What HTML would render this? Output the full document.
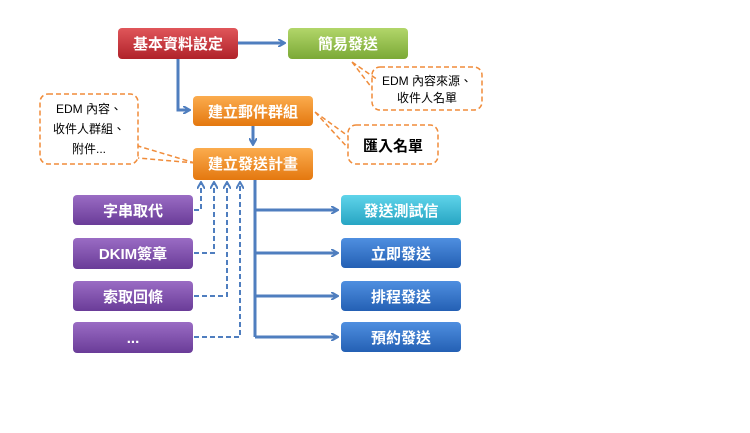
<!DOCTYPE html>
<html><head><meta charset="utf-8"><style>
body{margin:0;background:#fff;width:750px;height:428px;overflow:hidden}
</style></head><body>
<svg width="750" height="428" xmlns="http://www.w3.org/2000/svg" font-family="Liberation Sans, Noto Sans CJK TC, sans-serif">
<defs>
<linearGradient id="r" x1="0" y1="0" x2="0" y2="1"><stop offset="0" stop-color="#e0565a"/><stop offset="1" stop-color="#b0222a"/></linearGradient>
<linearGradient id="g" x1="0" y1="0" x2="0" y2="1"><stop offset="0" stop-color="#b2d66a"/><stop offset="1" stop-color="#7ba936"/></linearGradient>
<linearGradient id="o" x1="0" y1="0" x2="0" y2="1"><stop offset="0" stop-color="#fbac4e"/><stop offset="1" stop-color="#e4780f"/></linearGradient>
<linearGradient id="p" x1="0" y1="0" x2="0" y2="1"><stop offset="0" stop-color="#9a6cc4"/><stop offset="1" stop-color="#6a3c98"/></linearGradient>
<linearGradient id="c" x1="0" y1="0" x2="0" y2="1"><stop offset="0" stop-color="#5fd4ea"/><stop offset="1" stop-color="#27a5c3"/></linearGradient>
<linearGradient id="b" x1="0" y1="0" x2="0" y2="1"><stop offset="0" stop-color="#4f8fe0"/><stop offset="1" stop-color="#2460b4"/></linearGradient>
<marker id="a" markerWidth="8" markerHeight="8" refX="6" refY="4" orient="auto" markerUnits="userSpaceOnUse"><path d="M0,0 L7,4 L0,8" fill="none" stroke="#4f7ebf" stroke-width="2"/></marker>
</defs>
<g stroke="#4f7ebf" stroke-width="3" fill="none">
<path d="M238,43 H284" marker-end="url(#a)"/>
<path d="M178,59 V110 H189" marker-end="url(#a)"/>
<path d="M253,126 V144" marker-end="url(#a)"/>
<path d="M255,180 V337"/>
<path d="M255,210 H337" marker-end="url(#a)"/>
<path d="M255,253 H337" marker-end="url(#a)"/>
<path d="M255,296 H337" marker-end="url(#a)"/>
<path d="M255,337 H337" marker-end="url(#a)"/>
</g>
<g stroke="#4f7ebf" stroke-width="2" fill="none" stroke-dasharray="5,3">
<path d="M194,210 H201 V183" marker-end="url(#a)"/>
<path d="M194,253 H214 V183" marker-end="url(#a)"/>
<path d="M194,296 H227 V183" marker-end="url(#a)"/>
<path d="M194,337 H240 V183" marker-end="url(#a)"/>
</g>
<g stroke="#f08c3a" stroke-width="1.5" fill="#fff" stroke-dasharray="5,3">
<rect x="372" y="67" width="110" height="43" rx="8"/>
<path d="M352,62 L378,80 M352,62 L372,88" fill="none"/>
<rect x="40" y="94" width="98" height="70" rx="8"/>
<path d="M195,163 L138,146 M195,163 L138,158" fill="none"/>
<rect x="348" y="125" width="90" height="39" rx="8"/>
<path d="M315,112 L348,136 M315,112 L348,148" fill="none"/>
</g>
<g font-size="12" fill="#000" text-anchor="middle">
<text x="427" y="85">EDM 內容來源、</text><text x="427" y="102">收件人名單</text>
<text x="89" y="113">EDM 內容、</text><text x="89" y="133">收件人群組、</text><text x="89" y="153">附件...</text>
<text x="393" y="151" font-size="15" font-weight="bold">匯入名單</text>
</g>
<g font-size="15" font-weight="bold" fill="#fff" text-anchor="middle">
<rect x="118" y="28" width="120" height="31" rx="4" fill="url(#r)"/><text x="178" y="49">基本資料設定</text>
<rect x="288" y="28" width="120" height="31" rx="4" fill="url(#g)"/><text x="348" y="49">簡易發送</text>
<rect x="193" y="96" width="120" height="30" rx="4" fill="url(#o)"/><text x="253" y="117">建立郵件群組</text>
<rect x="193" y="148" width="120" height="32" rx="4" fill="url(#o)"/><text x="253" y="169">建立發送計畫</text>
<rect x="73" y="195" width="120" height="30" rx="4" fill="url(#p)"/><text x="133" y="216">字串取代</text>
<rect x="73" y="238" width="120" height="31" rx="4" fill="url(#p)"/><text x="133" y="259">DKIM簽章</text>
<rect x="73" y="281" width="120" height="30" rx="4" fill="url(#p)"/><text x="133" y="302">索取回條</text>
<rect x="73" y="322" width="120" height="31" rx="4" fill="url(#p)"/><text x="133" y="343">...</text>
<rect x="341" y="195" width="120" height="30" rx="4" fill="url(#c)"/><text x="401" y="216">發送測試信</text>
<rect x="341" y="238" width="120" height="30" rx="4" fill="url(#b)"/><text x="401" y="259">立即發送</text>
<rect x="341" y="281" width="120" height="30" rx="4" fill="url(#b)"/><text x="401" y="302">排程發送</text>
<rect x="341" y="322" width="120" height="30" rx="4" fill="url(#b)"/><text x="401" y="343">預約發送</text>
</g>
</svg>
</body></html>
